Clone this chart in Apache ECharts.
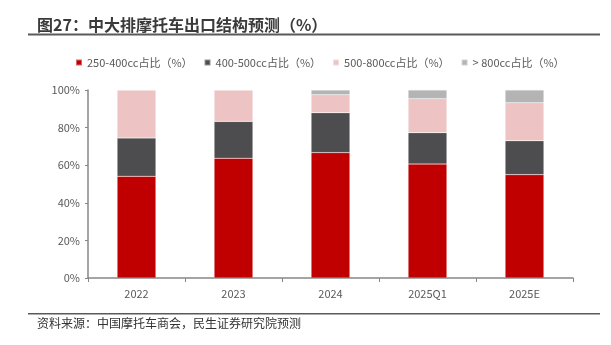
<!DOCTYPE html>
<html><head><meta charset="utf-8">
<script src="https://cdn.jsdelivr.net/npm/echarts@6/dist/echarts.min.js"></script>
<style>html,body{margin:0;padding:0;background:#fff}#c{width:611px;height:345px}</style>
</head><body><div id="c"></div>
<script>
const categories = ['2022', '2023', '2024', '2025Q1', '2025E'];
const s250_400 = [54.1, 63.7, 66.7, 60.6, 55.0];
const s400_500 = [20.4, 19.6, 21.2, 16.7, 18.0];
const s500_800 = [25.5, 16.7, 9.6, 18.1, 20.2];
const s800 = [0, 0, 2.5, 4.6, 6.8];
const seriesNames = ['250-400cc占比（%）', '400-500cc占比（%）', '500-800cc占比（%）', '> 800cc占比（%）'];
const yTicks = [0, 20, 40, 60, 80, 100];

const FONT = '"Noto Sans CJK SC", "Microsoft YaHei", sans-serif';
const colors = ['#C00000', '#4D4D4F', '#EDC3C3', '#B4B4B4'];
const chart = echarts.init(document.getElementById('c'));
const datas = [s250_400, s400_500, s500_800, s800];
chart.setOption({
  animation: false,
  textStyle: { fontFamily: FONT },
  graphic: [
    { type: 'text', left: 37, top: 17, style: { text: '图27：中大排摩托车出口结构预测（%）', font: 'bold 16px ' + FONT, fill: '#3a3a3a' } },
    { type: 'rect', shape: { x: 28, y: 33.5, width: 572, height: 2 }, style: { fill: '#5a5a5a' } },
    { type: 'rect', shape: { x: 28, y: 313, width: 572, height: 1.5 }, style: { fill: '#5a5a5a' } },
    { type: 'text', left: 37, top: 317, style: { text: '资料来源：中国摩托车商会，民生证券研究院预测', font: '12px ' + FONT, fill: '#333' } }
  ],
  legend: {
    left: 70, top: 52, itemWidth: 6, itemHeight: 6, itemGap: 11, icon: 'rect',
    textStyle: { fontSize: 11, color: '#595959', fontFamily: FONT },
    data: seriesNames
  },
  grid: { left: 88, right: 38, top: 90, bottom: 67 },
  xAxis: {
    type: 'category', data: categories,
    axisLine: { lineStyle: { color: '#868686', width: 1.5 } },
    axisTick: { show: true, length: 4, lineStyle: { color: '#868686' } },
    axisLabel: { color: '#595959', fontSize: 11, margin: 10, fontFamily: FONT }
  },
  yAxis: {
    type: 'value', min: yTicks[0], max: yTicks[yTicks.length - 1], interval: 20,
    axisLine: { show: true, lineStyle: { color: '#868686', width: 1.5 } },
    axisTick: { show: true, length: 3, lineStyle: { color: '#868686' } },
    splitLine: { show: false },
    axisLabel: { color: '#595959', fontSize: 11, margin: 8, formatter: '{value}%', fontFamily: FONT }
  },
  series: seriesNames.map((n, i) => ({
    name: n, type: 'bar', stack: 'a', barWidth: '40%',
    itemStyle: { color: colors[i], borderColor: 'rgba(255,255,255,0.4)', borderWidth: 0.5 },
    data: datas[i]
  }))
});
</script></body></html>
